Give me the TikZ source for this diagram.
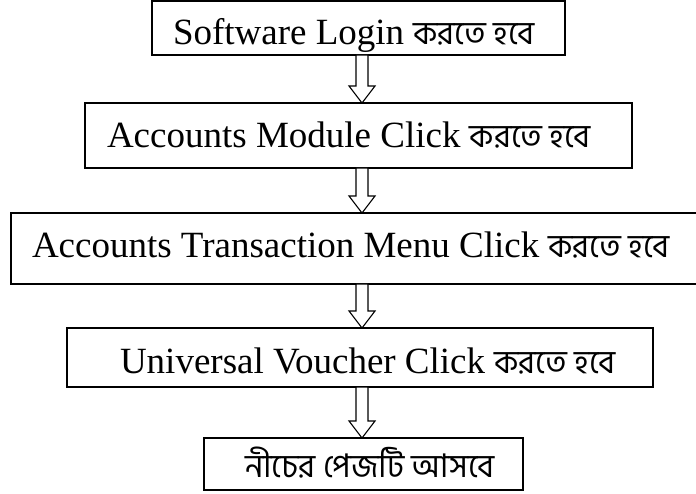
\documentclass[tikz,border=0pt]{standalone}
\usepackage{fontspec}
\setmainfont{Liberation Serif}
\newfontfamily\bn[Script=Bengali,Scale=0.88]{Hind Siliguri}
\usetikzlibrary{calc}
\tikzset{
  boxst/.style={draw=black, line width=1.6pt, inner sep=0pt, outer sep=0pt},
  txt/.style={anchor=base west, inner sep=0pt, outer sep=0pt, font=\fontsize{37}{44}\selectfont},
  blockarrow/.style={draw=black, line width=1.1pt, fill=white, line join=miter}
}
\newcommand\flowarrow[2]{%
  \draw[blockarrow] let \p1=(#1.south), \p2=(#2.north), \p3=(ax) in
    (\x3-6pt,\y1) -- (\x3-6pt,\y2+17pt) -- (\x3-13pt,\y2+17pt) -- (\x3,\y2)
    -- (\x3+13pt,\y2+17pt) -- (\x3+6pt,\y2+17pt) -- (\x3+6pt,\y1) -- cycle;}
\begin{document}
\begin{tikzpicture}[x=1pt,y=-1pt]
\useasboundingbox (0,0) rectangle (696,494);
\coordinate (ax) at (362,0);
% boxes
\node (b1) [boxst, minimum width=413pt, minimum height=54pt] at (358.5,28) {};
\node (b2) [boxst, minimum width=547pt, minimum height=65pt] at (358.5,135.5) {};
\node (b3) [boxst, minimum width=700pt, minimum height=71pt] at (361,248.5) {};
\node (b4) [boxst, minimum width=586pt, minimum height=59pt] at (360,357.5) {};
\node (b5) [boxst, minimum width=319pt, minimum height=52pt] at (363.5,464) {};
% texts
\node (t1) [txt] at (173,45) {Software Login {\bn করতে হবে}};
\node (t2) [txt] at (107,148) {Accounts Module Click {\bn করতে হবে}};
\node (t3) [txt] at (32,258) {Accounts Transaction Menu Click {\bn করতে হবে}};
\node (t4) [txt] at (120,373) {Universal Voucher Click {\bn করতে হবে}};
\node (t5) [txt] at (245,477) {\bn নীচের পেজটি আসবে};
% arrows
\flowarrow{b1}{b2}
\flowarrow{b2}{b3}
\flowarrow{b3}{b4}
\flowarrow{b4}{b5}
\end{tikzpicture}
\end{document}
